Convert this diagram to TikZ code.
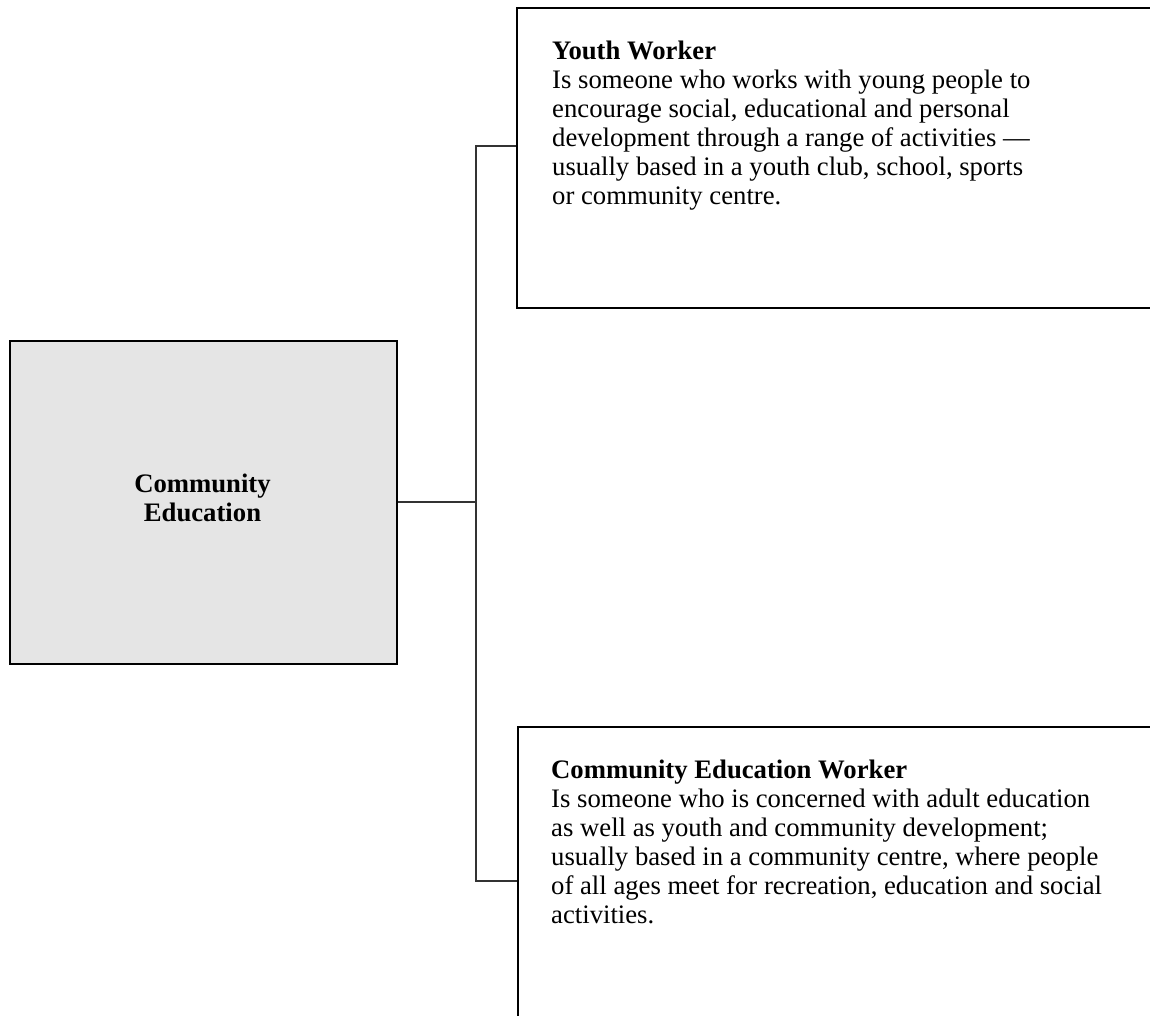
\documentclass[tikz,border=0pt]{standalone}
\usepackage{fontspec}
\setmainfont{Liberation Serif}
\definecolor{boxgray}{HTML}{E5E5E5}
\definecolor{linegray}{HTML}{333333}
\tikzset{
  boxline/.style={draw=black, line width=2.4pt},
  conn/.style={draw=linegray, line width=1.9pt},
  bodytext/.style={anchor=base west, align=left, inner sep=0pt, font=\fontsize{26.7}{29}\selectfont},
  titletext/.style={anchor=base, align=center, inner sep=0pt, font=\fontsize{26.7}{29}\selectfont\bfseries}
}
\begin{document}
\begin{tikzpicture}[x=1pt,y=-1pt]
\useasboundingbox (0,0) rectangle (1150,1016);
\clip (0,0) rectangle (1150,1016);
% central box
\node[boxline, fill=boxgray, minimum width=387pt, minimum height=323pt, inner sep=0pt, anchor=north west] (center) at (9,340) {};
\node[titletext] (centertext) at (202.5,521) {Community\\Education};
% top box
\node[boxline, minimum width=660pt, minimum height=300pt, inner sep=0pt, anchor=north west] (top) at (516,7) {};
\node[bodytext] (toptext) at (552,204.3) {\textbf{Youth Worker}\\
Is someone who works with young people to\\
encourage social, educational and personal\\
development through a range of activities —\\
usually based in a youth club, school, sports\\
or community centre.};
% bottom box
\node[boxline, minimum width=660pt, minimum height=340pt, inner sep=0pt, anchor=north west] (bottom) at (516.7,726) {};
\node[bodytext] (bottomtext) at (551,923) {\textbf{Community Education Worker}\\
Is someone who is concerned with adult education\\
as well as youth and community development;\\
usually based in a community centre, where people\\
of all ages meet for recreation, education and social\\
activities.};
% connectors
\coordinate (j) at (475.7,501.7);
\coordinate (ta) at (516,146);
\coordinate (ba) at (516.7,881);
\draw[conn] (center.east |- j) -- (j);
\draw[conn] (ta) -| (j);
\draw[conn] (ba) -| (j);
\end{tikzpicture}
\end{document}
